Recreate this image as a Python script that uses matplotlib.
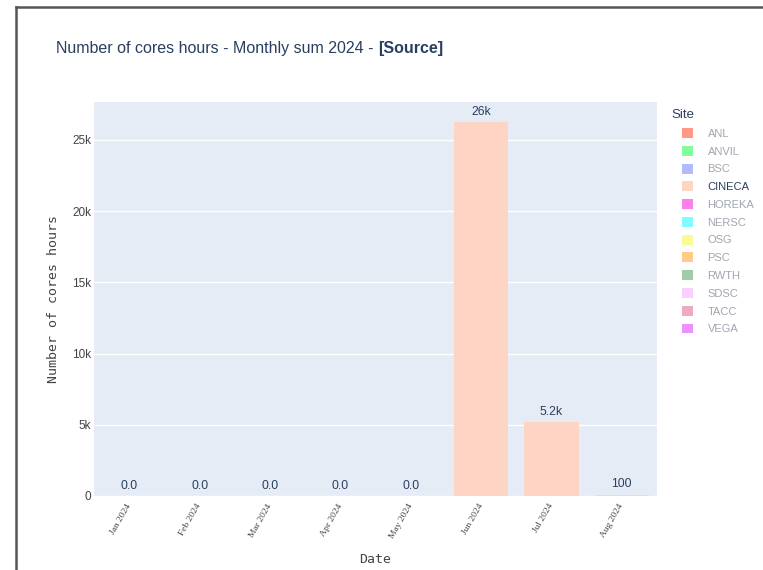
import matplotlib
matplotlib.use("Agg")
import matplotlib.pyplot as plt
from matplotlib.patches import Patch
from matplotlib.lines import Line2D
import numpy as np

months = ["Jan 2024", "Feb 2024", "Mar 2024", "Apr 2024", "May 2024", "Jun 2024", "Jul 2024", "Aug 2024"]
cineca_values = [0, 0, 0, 0, 0, 26250, 5180, 100]
bar_labels = ["0.0", "0.0", "0.0", "0.0", "0.0", "26k", "5.2k", "100"]
sites = ["ANL", "ANVIL", "BSC", "CINECA", "HOREKA", "NERSC", "OSG", "PSC", "RWTH", "SDSC", "TACC", "VEGA"]
site_colors = ["#FD3216", "#00FE35", "#6A76FC", "#FED4C4", "#FE00CE", "#0DF9FF",
               "#F6F926", "#FF9616", "#479B55", "#EEA6FB", "#DC587D", "#D626FF"]
visible_site = "CINECA"
yticks = [0, 5000, 10000, 15000, 20000, 25000]
ytick_labels = ["0", "5k", "10k", "15k", "20k", "25k"]

text_color = "#2a3f5f"
fig = plt.figure(figsize=(7.63, 5.70), dpi=100)
ax = fig.add_axes([94/763, 1-496/570, (657-94)/763, (496-102)/570])
ax.set_facecolor("#E5ECF6")

x = np.arange(len(months))
bars = ax.bar(x, cineca_values, width=0.77, color=site_colors[sites.index(visible_site)], zorder=3)
for xi, v, lab in zip(x, cineca_values, bar_labels):
    ax.annotate(lab, (xi, v), xytext=(0, 3), textcoords="offset points", ha="center", va="bottom",
                fontsize=8.8, color=text_color, family="Liberation Sans", zorder=4)

ax.set_xlim(-0.5, len(months) - 0.5)
ax.set_ylim(0, 27650)
ax.set_yticks(yticks)
ax.set_yticklabels(ytick_labels, family="Liberation Sans", fontsize=8.5, color="#444444")
ax.set_xticks(x)
ax.set_xticklabels(months, rotation=60, ha="right", va="center", rotation_mode="anchor",
                   family="Liberation Serif", fontsize=6.8, color="#444444")
ax.tick_params(axis="x", length=0, pad=6)
ax.tick_params(axis="y", length=0, pad=2)
ax.grid(axis="y", color="white", linewidth=1, zorder=1)
for s in ax.spines.values():
    s.set_visible(False)

ax.set_ylabel("Number of cores hours", family="DejaVu Sans Mono", fontsize=9.5, color="#444444", labelpad=9)
ax.set_xlabel("Date", family="DejaVu Sans Mono", fontsize=9.5, color="#444444", labelpad=9)

fig.text(56/763, 1-49/570, "Number of cores hours - Monthly sum 2024 - ", family="Liberation Sans",
         fontsize=11.5, color=text_color, va="center", ha="left")
t = fig.texts[-1]
fig.canvas.draw()
bb = t.get_window_extent()
fig.text(bb.x1/763, 1-49/570, "[Source]", family="Liberation Sans", fontsize=11.5, color=text_color,
         va="center", ha="left", weight="bold")

fig.text(671/763, 1-115/570, "Site", family="Liberation Sans", fontsize=9.5, color=text_color,
         va="center", ha="left")
handles = []
for s, c in zip(sites, site_colors):
    handles.append(Patch(facecolor=c, alpha=1.0 if s == visible_site else 0.5, edgecolor="none"))
leg = fig.legend(handles, sites, loc="upper left", bbox_to_anchor=(682/763, 1-128/570), frameon=False,
                 prop={"family": "Liberation Sans", "size": 8},
                 handlelength=1.0, handleheight=1.0, labelspacing=0.63, handletextpad=1.3, borderpad=0.0,
                 borderaxespad=0.0)
for s, txt in zip(sites, leg.get_texts()):
    txt.set_color(text_color if s == visible_site else "#a0a6b0")

fig.add_artist(Line2D([16/763, 16/763], [0, 1-7/570], color="#555555", linewidth=1.8, transform=fig.transFigure))
fig.add_artist(Line2D([16/763, 1], [1-7/570, 1-7/570], color="#555555", linewidth=1.8, transform=fig.transFigure))

fig.savefig("out.png", dpi=100, facecolor="white")
